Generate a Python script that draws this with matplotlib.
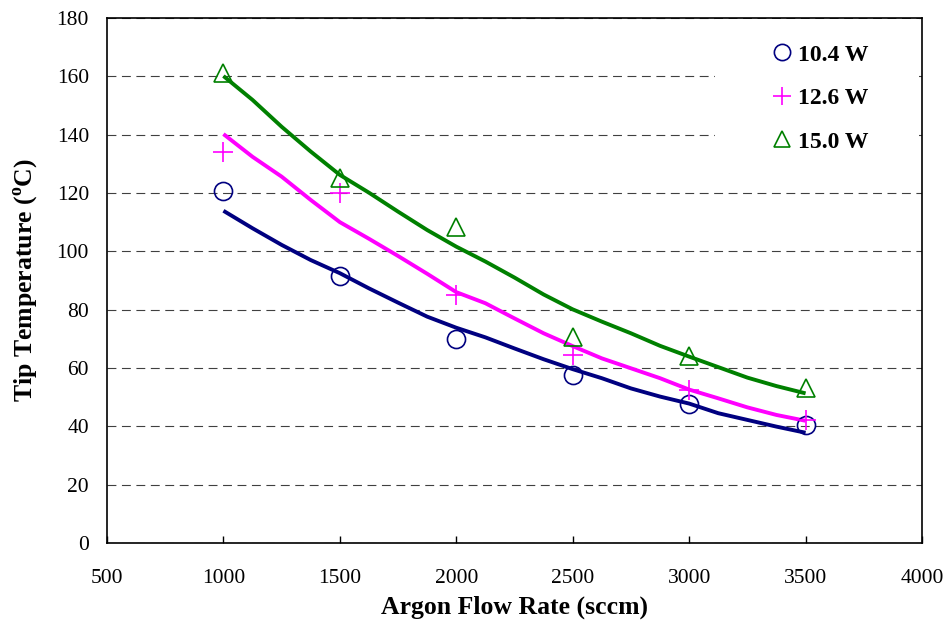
import matplotlib
matplotlib.use("Agg")
import matplotlib.pyplot as plt
from matplotlib.patches import Rectangle

plt.rcParams['font.family'] = ['Liberation Serif', 'DejaVu Serif']
plt.rcParams['mathtext.fontset'] = 'custom'
plt.rcParams['mathtext.rm'] = 'Liberation Serif'
plt.rcParams['mathtext.bf'] = 'Liberation Serif:bold'

# Measured data points
flow = [1000, 1500, 2000, 2500, 3000, 3500]
t_104 = [120.7, 91.5, 70.0, 57.6, 47.7, 40.5]
t_126 = [134.0, 120.0, 85.0, 64.5, 52.5, 42.0]
t_150 = [161.0, 125.0, 108.5, 70.6, 64.0, 53.0]

# Trend lines
trend_x = [1000, 1125, 1250, 1375, 1500, 1625, 1750, 1875, 2000, 2125, 2250,
           2375, 2500, 2625, 2750, 2875, 3000, 3125, 3250, 3375, 3500]
trend_104 = [113.9, 107.9, 102.2, 97.0, 92.5, 87.3, 82.4, 77.6, 73.8, 70.5, 66.7,
             63.0, 59.6, 56.5, 53.0, 50.2, 47.8, 44.5, 42.2, 39.9, 37.8]
trend_126 = [140.2, 132.4, 125.6, 117.6, 110.0, 104.3, 98.4, 92.3, 86.0, 82.2, 77.0,
             71.9, 67.5, 63.3, 59.9, 56.5, 52.6, 49.6, 46.5, 43.9, 41.9]
trend_150 = [160.1, 151.9, 142.7, 134.2, 126.2, 120.1, 113.6, 107.3, 101.6, 96.5, 91.0,
             85.2, 80.1, 75.9, 71.9, 67.6, 63.9, 60.3, 56.7, 53.8, 51.3]

labels = ['10.4 W', '12.6 W', '15.0 W']
colors = ['#000080', '#FF00FF', '#008000']
markers = ['o', '+', '^']

xticks = [500, 1000, 1500, 2000, 2500, 3000, 3500, 4000]
yticks = [0, 20, 40, 60, 80, 100, 120, 140, 160, 180]

fig = plt.figure(figsize=(9.52, 6.24), dpi=100)
ax = fig.add_axes([0.1124, 0.1298, 0.8561, 0.8414])

handles = []
for ys, ts, c, m, lab in zip([t_104, t_126, t_150], [trend_104, trend_126, trend_150],
                             colors, markers, labels):
    ax.plot(trend_x, ts, color=c, lw=2.8, zorder=2, solid_capstyle='butt')
    h, = ax.plot(flow, ys, linestyle='none', marker=m, markersize=13 if m != '+' else 15,
                 markerfacecolor='none', markeredgecolor=c, markeredgewidth=1.2,
                 label=lab, zorder=3)
    handles.append(h)

ax.set_xlim(500, 4000)
ax.set_ylim(0, 180)
ax.set_xticks(xticks)
ax.set_yticks(yticks)
ax.set_axisbelow(True)
ax.yaxis.grid(True, color='#404040', lw=0.8, linestyle=(0, (8, 5)))
ax.tick_params(axis='x', direction='in', length=5, width=1, labelsize=15.5, pad=19)
ax.tick_params(axis='y', direction='in', length=0, labelsize=15.5, pad=13)
for s in ax.spines.values():
    s.set_linewidth(1.2)

# white legend background that hides the grid
ax.add_patch(Rectangle((0.746, 0.72), 0.25, 0.278, transform=ax.transAxes,
                       facecolor='white', edgecolor='none', zorder=1))

ax.set_xlabel('Argon Flow Rate (sccm)', fontsize=18.5, fontweight='bold', labelpad=5)
ax.set_ylabel(r'Tip Temperature ($^{\mathbf{o}}$C)', fontsize=18.5, fontweight='bold', labelpad=12)

leg = ax.legend(handles=handles, loc='upper left', bbox_to_anchor=(0.82, 0.95),
                frameon=False, borderpad=0, borderaxespad=0, handlelength=0.6,
                handletextpad=0.35, labelspacing=0.93, markerscale=0.9,
                prop={'family': 'Liberation Serif', 'weight': 'bold', 'size': 17})

fig.savefig('out.png', dpi=100, facecolor='white')
